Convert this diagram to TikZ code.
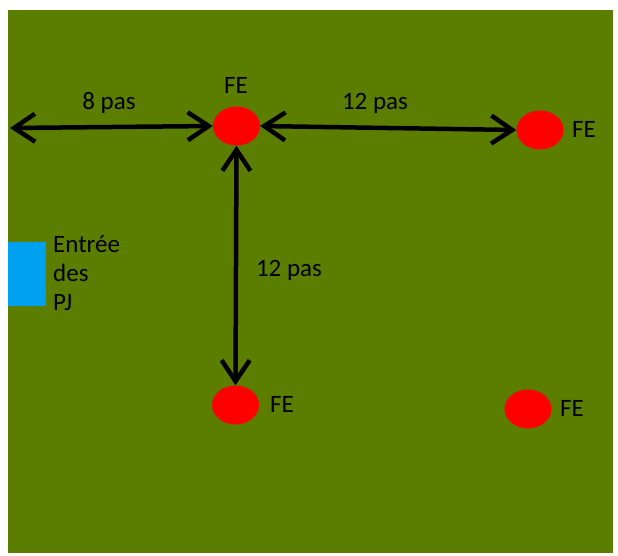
\documentclass[tikz,border=0pt]{standalone}
\usepackage{fontspec}
\setmainfont{Carlito}
\usetikzlibrary{arrows.meta,shapes.geometric}
\definecolor{field}{RGB}{91,125,0}
\definecolor{gate}{RGB}{0,160,240}
\definecolor{fe}{RGB}{255,0,0}
\begin{document}
\begin{tikzpicture}[x=1pt,y=-1pt,
  spot/.style={ellipse,fill=fe,draw=none,minimum width=47pt,minimum height=39pt,inner sep=0pt},
  lbl/.style={font=\fontsize{25}{29}\selectfont,text=black,inner sep=0pt},
  span/.style={line width=4.5pt,{Straight Barb[length=21pt,width=28pt,line width=4.5pt]}-{Straight Barb[length=21pt,width=28pt,line width=4.5pt]}}
]
\useasboundingbox (0,0) rectangle (618,555);
% playing field and entry
\fill[field] (8,10) rectangle (613,553);
\fill[gate] (8,242) rectangle (46,306);

% spots
\node[spot] (a) at (236.5,126) {};
\node[spot] (b) at (540,130) {};
\node[spot] (c) at (235.5,405) {};
\node[spot] (d) at (528,409) {};

% spot labels
\node[lbl] (la) at (236,85) {FE};
\node[lbl,anchor=west] (lb) at (572,129) {FE};
\node[lbl,anchor=west] (lc) at (270,404) {FE};
\node[lbl,anchor=west] (ld) at (560,408) {FE};

% distances
\coordinate (edge) at (10,128);
\draw[span] (edge) -- (a.west);
\draw[span] (a.east) -- (b.west);
\draw[span] (a.south) -- (c.north);
\node[lbl] (d1) at (109,103) {8 pas};
\node[lbl] (d2) at (375,103) {12 pas};
\node[lbl] (d3) at (289,270) {12 pas};

% entry label
\node[lbl,anchor=north west,align=left] (entry) at (53,235) {Entrée\\des\\PJ};
\end{tikzpicture}
\end{document}
